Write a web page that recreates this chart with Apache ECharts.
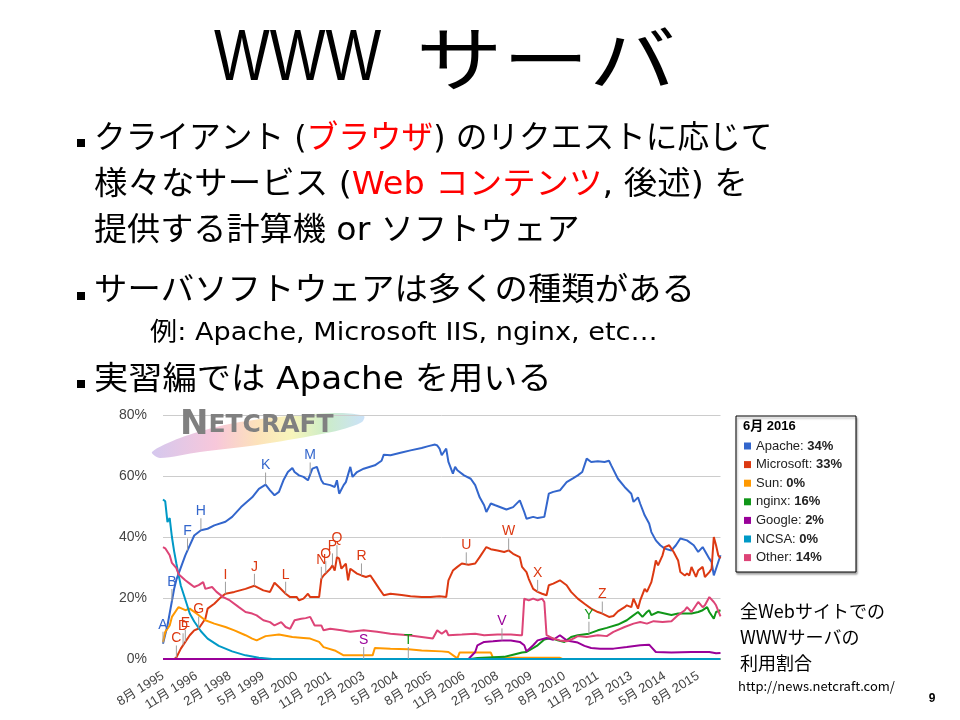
<!DOCTYPE html>
<html>
<head>
<meta charset="utf-8">
<script src="https://cdn.jsdelivr.net/npm/echarts@6/dist/echarts.min.js"></script>
<style>
  html, body { margin: 0; padding: 0; background: #fff; }
  #chart { width: 960px; height: 720px; }
</style>
</head>
<body>
<div id="chart"></div>
<script>
// Monthly web server market share (%), Netcraft survey, Aug 1995 – Jun 2016
const xTickLabels = ['8月 1995', '11月 1996', '2月 1998', '5月 1999', '8月 2000', '11月 2001',
  '2月 2003', '5月 2004', '8月 2005', '11月 2006', '2月 2008', '5月 2009', '8月 2010',
  '11月 2011', '2月 2013', '5月 2014', '8月 2015'];
const yTicks = [0, 20, 40, 60, 80];
const surveyMonth = '6月 2016';

const seriesNames = ['Apache', 'Microsoft', 'Sun', 'nginx', 'Google', 'NCSA', 'Other'];
const seriesColors = ['#3366cc', '#dc3912', '#ff9900', '#109618', '#990099', '#0099c6', '#dd4477'];

const apache = [
  ['1995-08', 5], ['1995-09', 8], ['1995-10', 11], ['1995-11', 15], ['1995-12', 19], ['1996-01', 23],
  ['1996-02', 26], ['1996-03', 28], ['1996-06', 34], ['1996-07', 35.6], ['1996-10', 40.5], ['1997-01', 42.2],
  ['1997-04', 42.7], ['1997-07', 43.8], ['1997-12', 45], ['1998-03', 46.6], ['1998-07', 49.8], ['1998-12', 53],
  ['1999-03', 55.8], ['1999-06', 57.2], ['1999-08', 55.3], ['1999-10', 53.7], ['1999-12', 54.8], ['2000-02', 58.6],
  ['2000-04', 61.3], ['2000-06', 62.6], ['2000-07', 61.3], ['2000-09', 60.2], ['2000-11', 59.7], ['2001-01', 58.6],
  ['2001-02', 60.5], ['2001-03', 62.4], ['2001-05', 63], ['2001-07', 58.6], ['2001-08', 57.5], ['2001-11', 57],
  ['2002-01', 56.4], ['2002-02', 58.6], ['2002-03', 54.2], ['2002-05', 57], ['2002-06', 58], ['2002-08', 63],
  ['2002-09', 59.7], ['2002-11', 61.3], ['2003-02', 62.4], ['2003-07', 63.5], ['2003-10', 65], ['2003-11', 67],
  ['2004-02', 66.8], ['2004-07', 67.7], ['2004-11', 68.4], ['2005-04', 69.2], ['2005-07', 69.8], ['2005-10', 70.3],
  ['2005-11', 70], ['2005-12', 69], ['2006-01', 66.8], ['2006-03', 69], ['2006-04', 64.6], ['2006-06', 60.8],
  ['2006-07', 63], ['2006-08', 61.9], ['2006-11', 60.2], ['2007-02', 59.1], ['2007-04', 57], ['2007-06', 53],
  ['2007-08', 50.4], ['2007-09', 48.2], ['2007-11', 51], ['2008-01', 50.4], ['2008-06', 49], ['2008-09', 49.8],
  ['2008-12', 52], ['2009-02', 48.2], ['2009-03', 46], ['2009-06', 46.6], ['2009-08', 46.2], ['2009-11', 46.6],
  ['2010-01', 54.2], ['2010-03', 54.8], ['2010-06', 55.3], ['2010-09', 58], ['2010-12', 59.3], ['2011-02', 60.2],
  ['2011-04', 61.3], ['2011-06', 65.7], ['2011-08', 64.6], ['2011-11', 64.8], ['2012-02', 64.6], ['2012-04', 65],
  ['2012-05', 63.5], ['2012-08', 59.1], ['2012-11', 56.4], ['2013-02', 54.2], ['2013-03', 51.5], ['2013-05', 53],
  ['2013-06', 50.9], ['2013-08', 47.1], ['2013-10', 44.4], ['2013-11', 41.6], ['2014-01', 38.9], ['2014-03', 37.3],
  ['2014-05', 36.2], ['2014-08', 35.6], ['2014-10', 37.3], ['2014-12', 39.5], ['2015-03', 38.9], ['2015-06', 37.3],
  ['2015-08', 35.1], ['2015-10', 36.7], ['2016-01', 32.9], ['2016-02', 31.8], ['2016-03', 27.4], ['2016-04', 29.6],
  ['2016-06', 34]
];

const microsoft = [
  ['1996-01', 0], ['1996-02', 0.5], ['1996-04', 3.4], ['1996-06', 5.6], ['1996-08', 7.8], ['1996-10', 9.4],
  ['1996-12', 10], ['1997-03', 13.2], ['1997-04', 16.5], ['1997-07', 18.1], ['1997-10', 20.3], ['1997-12', 21.4],
  ['1998-04', 22], ['1998-09', 23], ['1999-01', 24], ['1999-05', 22.5], ['1999-08', 22], ['1999-10', 25],
  ['1999-12', 23.6], ['2000-03', 21.4], ['2000-05', 20.3], ['2000-08', 20.3], ['2000-09', 19.2], ['2000-11', 19.8],
  ['2001-01', 21.4], ['2001-02', 20.3], ['2001-04', 20.3], ['2001-06', 20.3], ['2001-07', 26.3], ['2001-08', 27.4],
  ['2001-11', 29.6], ['2001-12', 30.7], ['2002-01', 29], ['2002-02', 33.4], ['2002-03', 32.9], ['2002-04', 29.6],
  ['2002-06', 31.3], ['2002-07', 25.8], ['2002-08', 29.6], ['2002-11', 28], ['2003-01', 27.4], ['2003-03', 26.9],
  ['2003-05', 27.4], ['2003-07', 25.2], ['2003-09', 23], ['2003-11', 20.9], ['2004-02', 21.4], ['2004-07', 21],
  ['2004-11', 20.6], ['2005-04', 20.3], ['2005-08', 20.3], ['2005-12', 20.6], ['2006-03', 20.3], ['2006-04', 25.8],
  ['2006-06', 29], ['2006-08', 30.2], ['2006-10', 31.3], ['2007-01', 30.9], ['2007-04', 31.3], ['2007-06', 33.4],
  ['2007-09', 36.7], ['2007-11', 36], ['2008-02', 35.6], ['2008-05', 35.1], ['2008-07', 35.6], ['2008-09', 34.5],
  ['2008-12', 33.4], ['2009-01', 30.2], ['2009-03', 28.5], ['2009-04', 26.3], ['2009-06', 23], ['2009-08', 22],
  ['2009-10', 21.4], ['2009-12', 20.9], ['2010-01', 24.2], ['2010-03', 24.7], ['2010-06', 25.8], ['2010-09', 24.2],
  ['2010-11', 22], ['2011-02', 19.8], ['2011-05', 18.1], ['2011-08', 16.5], ['2011-11', 15.4], ['2012-01', 14.9],
  ['2012-04', 13.8], ['2012-06', 14.1], ['2012-08', 15.6], ['2012-11', 17], ['2012-12', 17.6], ['2013-02', 17],
  ['2013-03', 19.8], ['2013-05', 16.5], ['2013-06', 19.2], ['2013-08', 23], ['2013-09', 22], ['2013-11', 25.2],
  ['2013-12', 28.5], ['2014-01', 32.3], ['2014-02', 30.7], ['2014-04', 34], ['2014-05', 36.7], ['2014-07', 37.3],
  ['2014-09', 35.1], ['2014-11', 32.3], ['2014-12', 28.5], ['2015-02', 27.4], ['2015-03', 28], ['2015-04', 27.4],
  ['2015-05', 30.2], ['2015-07', 26.9], ['2015-08', 29], ['2015-10', 30.2], ['2015-11', 26.9], ['2016-01', 28.5],
  ['2016-02', 29.6], ['2016-03', 40], ['2016-04', 37.3], ['2016-05', 34], ['2016-06', 33]
];

const sun = [
  ['1995-08', 5.6], ['1995-09', 8.9], ['1995-11', 11], ['1995-12', 13.8], ['1996-02', 16], ['1996-03', 17],
  ['1996-06', 16], ['1996-08', 16.5], ['1996-11', 14.9], ['1997-03', 12.7], ['1997-07', 11.6], ['1997-12', 10.5],
  ['1998-04', 9.4], ['1998-09', 7.8], ['1998-12', 6.7], ['1999-02', 6.1], ['1999-06', 7.5], ['1999-12', 8],
  ['2000-06', 7.2], ['2000-11', 6.9], ['2001-02', 6.7], ['2001-06', 5.6], ['2001-08', 3.9], ['2002-01', 2.8],
  ['2002-05', 1.2], ['2003-06', 1.2], ['2003-07', 3.6], ['2004-02', 3.4], ['2004-10', 3.2], ['2005-04', 2.8],
  ['2006-01', 2.5], ['2006-04', 2.3], ['2006-08', 0.2], ['2006-09', 2.1], ['2007-11', 2.1], ['2007-12', 0.4],
  ['2010-06', 0.4], ['2010-07', 0], ['2016-06', 0]
];

const nginx = [
  ['2004-10', 0], ['2007-02', 0], ['2007-05', 0.3], ['2008-05', 0.7], ['2008-09', 1.4], ['2009-01', 2.1],
  ['2009-03', 2.3], ['2009-08', 4.5], ['2009-11', 6.4], ['2010-02', 6.9], ['2010-05', 6.1], ['2010-08', 5.6],
  ['2010-11', 7.2], ['2011-02', 7.8], ['2011-07', 8.3], ['2011-11', 9.4], ['2012-03', 10.2], ['2012-08', 11.3],
  ['2012-12', 12.7], ['2013-02', 13.8], ['2013-05', 15.4], ['2013-07', 13.8], ['2013-09', 15.4], ['2013-10', 16],
  ['2013-11', 14.4], ['2014-02', 15.4], ['2014-05', 14.9], ['2014-08', 14.4], ['2014-11', 14.9], ['2015-02', 14.9],
  ['2015-05', 14.9], ['2015-08', 15.4], ['2015-10', 16], ['2015-12', 17], ['2016-01', 15.4], ['2016-03', 13.2],
  ['2016-04', 15.4], ['2016-06', 16]
];

const google = [
  ['1995-08', 0], ['2007-01', 0], ['2007-04', 2.3], ['2007-05', 4.5], ['2007-08', 5.6], ['2007-12', 5.8],
  ['2008-04', 6.1], ['2008-08', 6.1], ['2008-12', 5.6], ['2009-02', 4.5], ['2009-03', 2.5], ['2009-06', 4.5],
  ['2009-08', 6.1], ['2009-12', 6.9], ['2010-03', 6.3], ['2010-06', 7.8], ['2010-09', 6.1], ['2011-02', 5.4],
  ['2011-05', 4.3], ['2011-08', 3.6], ['2011-12', 3.4], ['2012-06', 3.4], ['2012-12', 3.9], ['2013-06', 4.5],
  ['2013-10', 4.7], ['2013-11', 3.9], ['2014-01', 2.3], ['2014-08', 2.1], ['2015-05', 2.3], ['2016-01', 2.3],
  ['2016-04', 1.9], ['2016-06', 2]
];

const ncsa = [
  ['1995-08', 52.3], ['1995-09', 51.7], ['1995-10', 44.9], ['1995-11', 46.2], ['1995-12', 40], ['1996-01', 35.3],
  ['1996-02', 31.3], ['1996-03', 27.5], ['1996-04', 24], ['1996-06', 19.5], ['1996-08', 14.9], ['1996-10', 12.3],
  ['1997-01', 9.1], ['1997-04', 6.7], ['1997-09', 4.3], ['1998-03', 2.5], ['1998-09', 1.2], ['1999-03', 0.4],
  ['1999-09', 0], ['2016-06', 0]
];

const other = [
  ['1995-08', 36.7], ['1995-09', 36.3], ['1995-11', 34], ['1995-12', 31.5], ['1996-02', 29.8], ['1996-03', 27.8],
  ['1996-06', 25.8], ['1996-08', 24.7], ['1996-10', 23.6], ['1996-12', 24.2], ['1997-02', 25.2], ['1997-03', 23],
  ['1997-06', 23.6], ['1997-08', 22], ['1997-11', 20.3], ['1998-02', 19.2], ['1998-06', 17], ['1998-09', 15.4],
  ['1998-12', 14.9], ['1999-02', 14.3], ['1999-05', 12.7], ['1999-08', 12.1], ['1999-10', 11], ['2000-01', 12.1],
  ['2000-03', 10.5], ['2000-05', 9.9], ['2000-07', 12.7], ['2000-10', 13.2], ['2000-12', 13.4], ['2001-02', 13.8],
  ['2001-04', 11], ['2001-07', 11], ['2001-08', 9.4], ['2001-11', 9.9], ['2002-04', 9.4], ['2002-08', 8.9],
  ['2003-02', 9.4], ['2003-08', 8.9], ['2004-02', 8.3], ['2004-10', 7.8], ['2005-04', 7.2], ['2005-09', 6.7],
  ['2005-11', 9.4], ['2006-01', 8.3], ['2006-03', 9.4], ['2006-04', 7.8], ['2006-10', 8], ['2007-04', 8.3],
  ['2007-08', 7.8], ['2008-02', 8], ['2008-08', 8], ['2008-12', 7.8], ['2009-01', 7.8], ['2009-02', 19.8],
  ['2009-04', 19.2], ['2009-06', 19.8], ['2009-08', 19.2], ['2009-10', 19.8], ['2009-11', 18.7], ['2009-12', 7.8],
  ['2010-03', 6.7], ['2010-06', 6.1], ['2010-09', 5.8], ['2010-12', 6.7], ['2011-02', 7.5], ['2011-06', 7.2],
  ['2011-11', 7.8], ['2012-03', 7.5], ['2012-06', 8.9], ['2012-11', 10.5], ['2013-03', 11.6], ['2013-06', 12.1],
  ['2013-09', 11.6], ['2013-12', 12.4], ['2014-04', 12.1], ['2014-08', 12.4], ['2014-11', 14.4], ['2015-02', 16],
  ['2015-03', 17], ['2015-05', 15.4], ['2015-08', 18.7], ['2015-10', 17], ['2015-11', 17.6], ['2016-01', 20.3],
  ['2016-03', 18.7], ['2016-04', 17.6], ['2016-06', 14]
];

// Lettered event markers: [letter, series, month]
const events = [
  ['A', 'Apache', '1995-08'], ['B', 'Apache', '1995-12'], ['C', 'Microsoft', '1996-02'],
  ['D', 'Microsoft', '1996-05'], ['E', 'Microsoft', '1996-06'], ['F', 'Apache', '1996-07'],
  ['G', 'Microsoft', '1996-12'], ['H', 'Apache', '1997-01'], ['I', 'Microsoft', '1997-12'],
  ['J', 'Microsoft', '1999-01'], ['K', 'Apache', '1999-06'], ['L', 'Microsoft', '2000-03'],
  ['M', 'Apache', '2001-02'], ['N', 'Microsoft', '2001-07'], ['O', 'Microsoft', '2001-09'],
  ['P', 'Microsoft', '2001-12'], ['Q', 'Microsoft', '2002-02'], ['R', 'Microsoft', '2003-01'],
  ['S', 'Google', '2003-02'], ['T', 'nginx', '2004-10'], ['U', 'Microsoft', '2006-12'],
  ['V', 'Google', '2008-04'], ['W', 'Microsoft', '2008-07'], ['X', 'Microsoft', '2009-08'],
  ['Y', 'nginx', '2011-07'], ['Z', 'Microsoft', '2012-01']
];

const seriesData = [apache, microsoft, sun, nginx, google, ncsa, other];

// months elapsed since the first survey (Aug 1995)
function monthIndex(s) {
  const [y, m] = s.split('-').map(Number);
  return (y - 1995) * 12 + (m - 8);
}
function toXY(arr) { return arr.map(d => [monthIndex(d[0]), d[1]]); }

// read a series' value at a given month along its drawn line
function valueAt(arr, mi) {
  const pts = toXY(arr);
  if (mi <= pts[0][0]) return pts[0][1];
  for (let i = 1; i < pts.length; i++) {
    if (mi <= pts[i][0]) {
      const [x0, y0] = pts[i - 1], [x1, y1] = pts[i];
      return y0 + (y1 - y0) * (mi - x0) / (x1 - x0);
    }
  }
  return pts[pts.length - 1][1];
}

const latest = seriesData.map(arr => Math.round(arr[arr.length - 1][1]));

const eventData = events.map(e => {
  const si = seriesNames.indexOf(e[1]);
  const mi = monthIndex(e[2]);
  return [mi, valueAt(seriesData[si], mi), si];
});

const jp = '"Noto Sans CJK JP", sans-serif';
const slideFont = '"DejaVu Sans", "Noto Sans CJK JP", sans-serif';
const arial = 'Arial, "Liberation Sans", sans-serif';

const lineSeries = seriesNames.map((name, i) => ({
  name,
  type: 'line',
  data: toXY(seriesData[i]),
  showSymbol: false,
  symbol: 'none',
  lineStyle: { width: 2, color: seriesColors[i] },
  itemStyle: { color: seriesColors[i] },
  z: 2,
  animation: false
}));

// one line of slide text; segments are [text, colour]
function slideLine(x, y, size, segments, sx) {
  const rich = {};
  const text = segments.map((s, i) => {
    rich['s' + i] = { fontSize: size, fontFamily: slideFont, fill: s[1] };
    return `{s${i}|${s[0]}}`;
  }).join('');
  return { type: 'text', x, y, scaleX: sx || 1, originX: 0,
    style: { x: 0, y: 0, verticalAlign: 'middle', text, rich, fontSize: size, fontFamily: slideFont } };
}

const chart = echarts.init(document.getElementById('chart'), null, { renderer: 'canvas' });

chart.setOption({
  backgroundColor: '#fff',
  animation: false,
  color: seriesColors,
  grid: { left: 163, top: 415, width: 557.5, height: 244 },
  xAxis: {
    type: 'value',
    min: 0,
    max: 250,
    interval: 15,
    axisLine: { show: false },
    axisTick: { show: false },
    splitLine: { show: false },
    axisLabel: {
      rotate: 32,
      margin: 16,
      color: '#444',
      fontSize: 13,
      fontFamily: 'Arial, "Liberation Sans", ' + jp,
      showMaxLabel: false,
      formatter: v => (v % 15 === 0 && xTickLabels[v / 15]) ? xTickLabels[v / 15] : ''
    }
  },
  yAxis: {
    type: 'value',
    min: yTicks[0],
    max: yTicks[yTicks.length - 1],
    interval: 20,
    axisLine: { show: false },
    axisTick: { show: false },
    splitLine: { lineStyle: { color: '#cccccc', width: 1 } },
    axisLabel: {
      margin: 16,
      color: '#444',
      fontSize: 14,
      fontFamily: arial,
      formatter: '{value}%'
    }
  },
  legend: {
    orient: 'vertical',
    left: 744,
    top: 439,
    padding: 0,
    itemWidth: 7,
    itemHeight: 7,
    itemGap: 4.6,
    icon: 'rect',
    selectedMode: false,
    data: seriesNames,
    formatter: name => `{n|${name}: }{v|${latest[seriesNames.indexOf(name)]}%}`,
    textStyle: {
      fontFamily: arial,
      fontSize: 13,
      color: '#222',
      lineHeight: 14,
      rich: {
        n: { fontSize: 13, color: '#222', lineHeight: 14, fontFamily: arial },
        v: { fontSize: 13, color: '#222', lineHeight: 14, fontWeight: 'bold', fontFamily: arial }
      }
    }
  },
  series: [
    ...lineSeries,
    {
      name: 'events',
      type: 'custom',
      data: eventData,
      clip: false,
      silent: true,
      z: 5,
      animation: false,
      renderItem(params, api) {
        const p = api.coord([api.value(0), api.value(1)]);
        const c = seriesColors[api.value(2)];
        const letter = events[params.dataIndex][0];
        return {
          type: 'group',
          children: [
            { type: 'line', shape: { x1: p[0], y1: p[1], x2: p[0], y2: p[1] - 12 },
              style: { stroke: '#9e9e9e', lineWidth: 1 } },
            { type: 'text', style: { x: p[0], y: p[1] - 12, text: letter, fill: c,
              font: '14px ' + arial, align: 'center', verticalAlign: 'bottom' } }
          ]
        };
      }
    }
  ],
  graphic: [
    // slide title
    { type: 'text', x: 214, y: 60, scaleX: 0.82, originX: 0,
      style: { x: 0, y: 0, text: 'WWW', font: '72px ' + arial, fill: '#000', verticalAlign: 'middle' } },
    { type: 'text', x: 416, y: 58, scaleX: 1.22, originX: 0,
      style: { x: 0, y: 0, text: 'サーバ', font: '71px ' + jp, fill: '#000', verticalAlign: 'middle' } },
    // bullet markers
    { type: 'rect', shape: { x: 77, y: 139, width: 8, height: 8 }, style: { fill: '#000' } },
    { type: 'rect', shape: { x: 77, y: 292, width: 8, height: 8 }, style: { fill: '#000' } },
    { type: 'rect', shape: { x: 77, y: 380, width: 8, height: 8 }, style: { fill: '#000' } },
    slideLine(94, 140, 32, [['クライアント (', '#000'], ['ブラウザ', '#ff0000'], [') のリクエストに応じて', '#000']], 0.99),
    slideLine(94, 186, 32, [['様々なサービス (', '#000'], ['Web コンテンツ', '#ff0000'], [', 後述) を', '#000']], 1.045),
    slideLine(94, 232, 32, [['提供する計算機 or ソフトウェア', '#000']], 1.035),
    slideLine(94, 292, 32, [['サーバソフトウェアは多くの種類がある', '#000']], 1.043),
    slideLine(150, 333, 25, [['例: Apache, Microsoft IIS, nginx, etc…', '#000']], 1.085),
    slideLine(94, 381, 32, [['実習編では Apache を用いる', '#000']], 1.07),
    // NETCRAFT mark with its brush-stroke swoosh
    { type: 'polygon', z: 0,
      shape: { smooth: 0.3, points: [[152, 452], [180, 438], [220, 426], [260, 419], [300, 415], [340, 413], [364, 416],
        [362, 422], [340, 430], [300, 438], [250, 446], [200, 452], [160, 458]] },
      style: { opacity: 0.6, fill: { type: 'linear', x: 0, y: 0, x2: 1, y2: 0, colorStops: [
        { offset: 0, color: '#b9a3e3' }, { offset: 0.3, color: '#f2a2c2' }, { offset: 0.5, color: '#fbcf8c' },
        { offset: 0.66, color: '#f3ef8e' }, { offset: 0.82, color: '#a9e0a4' }, { offset: 1, color: '#a9cff5' } ] } } },
    { type: 'text', z: 1, style: { x: 180, y: 442, verticalAlign: 'bottom',
      text: '{a|N}{b|ETCRAFT}',
      rich: { a: { fontSize: 34, fontFamily: '"DejaVu Sans", sans-serif', fontWeight: 'bold', fill: '#808080' },
              b: { fontSize: 25, fontFamily: '"DejaVu Sans", sans-serif', fontWeight: 'bold', fill: '#808080' } } } },
    // legend frame and survey month
    { type: 'rect', z: -1, shape: { x: 736, y: 416, width: 120, height: 156 },
      style: { fill: '#fff', stroke: '#000', lineWidth: 1, shadowColor: 'rgba(0,0,0,0.35)', shadowOffsetX: 1, shadowOffsetY: 2, shadowBlur: 2 } },
    { type: 'text', style: { x: 743, y: 426, verticalAlign: 'middle', text: surveyMonth,
      font: 'bold 13px Arial, "Liberation Sans", ' + jp, fill: '#000' } },
    // caption
    { type: 'text', style: { x: 740, y: 611, verticalAlign: 'middle', text: '全Webサイトでの', font: '18px ' + jp, fill: '#000' } },
    { type: 'text', style: { x: 740, y: 637, verticalAlign: 'middle', text: 'WWWサーバの', font: '18px ' + jp, fill: '#000' } },
    { type: 'text', style: { x: 740, y: 663, verticalAlign: 'middle', text: '利用割合', font: '18px ' + jp, fill: '#000' } },
    { type: 'text', style: { x: 738, y: 686, verticalAlign: 'middle', text: 'http://news.netcraft.com/', font: '13px ' + jp, fill: '#000' } },
    { type: 'text', style: { x: 932, y: 699, verticalAlign: 'middle', align: 'center', text: '9', font: 'bold 12px ' + arial, fill: '#000' } }
  ]
});
</script>
</body>
</html>
